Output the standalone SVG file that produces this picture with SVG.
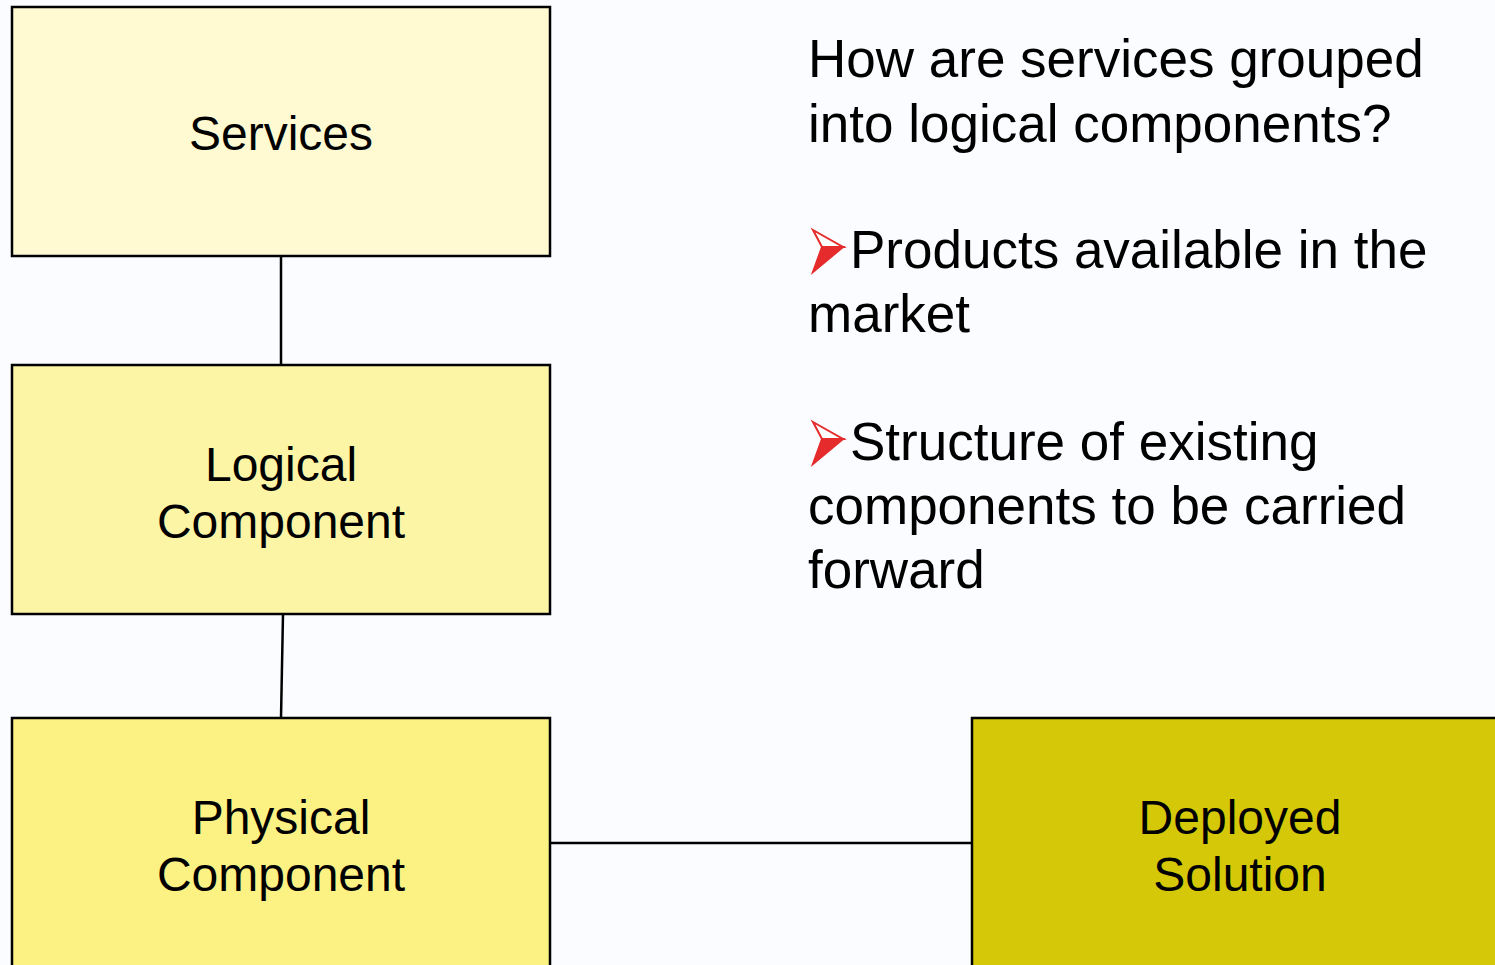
<svg xmlns="http://www.w3.org/2000/svg" width="1495" height="965" viewBox="0 0 1495 965">
<style>
.box{stroke:#000;stroke-width:2.5}
.t{font-family:"Liberation Sans",Arial,sans-serif;font-size:48px;fill:#000}
.n{font-size:53px}
.c{text-anchor:middle}
.conn{stroke:#000;stroke-width:2.5;fill:none}
</style>
<defs>
<g id="bullet">
<polygon points="0,0 30,17 9,17" fill="#fff" stroke="#e52b2b" stroke-width="2"/>
<polygon points="0,42 30,17 9,17" fill="#e52b2b" stroke="#e52b2b" stroke-width="2"/>
</g>
</defs>
<rect width="1495" height="965" fill="#fafcff"/>
<g id="connectors">
<line class="conn" x1="281" y1="256" x2="281" y2="365"/>
<line class="conn" x1="283" y1="614" x2="281" y2="718"/>
<line class="conn" x1="550" y1="843" x2="972" y2="843"/>
</g>
<g id="services">
<rect class="box" x="12" y="7" width="538" height="249" fill="#fffad2"/>
<text class="t c" x="281" y="150">Services</text>
</g>
<g id="logical">
<rect class="box" x="12" y="365" width="538" height="249" fill="#fdf5a6"/>
<text class="t c" x="281" y="481">Logical</text>
<text class="t c" x="281" y="538">Component</text>
</g>
<g id="physical">
<rect class="box" x="12" y="718" width="538" height="260" fill="#fcf284"/>
<text class="t c" x="281" y="834">Physical</text>
<text class="t c" x="281" y="891">Component</text>
</g>
<g id="deployed">
<rect class="box" x="972" y="718" width="540" height="260" fill="#d4c808"/>
<text class="t c" x="1240" y="834">Deployed</text>
<text class="t c" x="1240" y="891">Solution</text>
</g>
<g id="notes">
<text class="t n" x="808" y="77">How are services grouped</text>
<text class="t n" x="808" y="142">into logical components?</text>
<use href="#bullet" x="813" y="230"/>
<text class="t n" x="850" y="268">Products available in the</text>
<text class="t n" x="808" y="332">market</text>
<use href="#bullet" x="813" y="422"/>
<text class="t n" x="850" y="460">Structure of existing</text>
<text class="t n" x="808" y="524">components to be carried</text>
<text class="t n" x="808" y="588">forward</text>
</g>
</svg>
